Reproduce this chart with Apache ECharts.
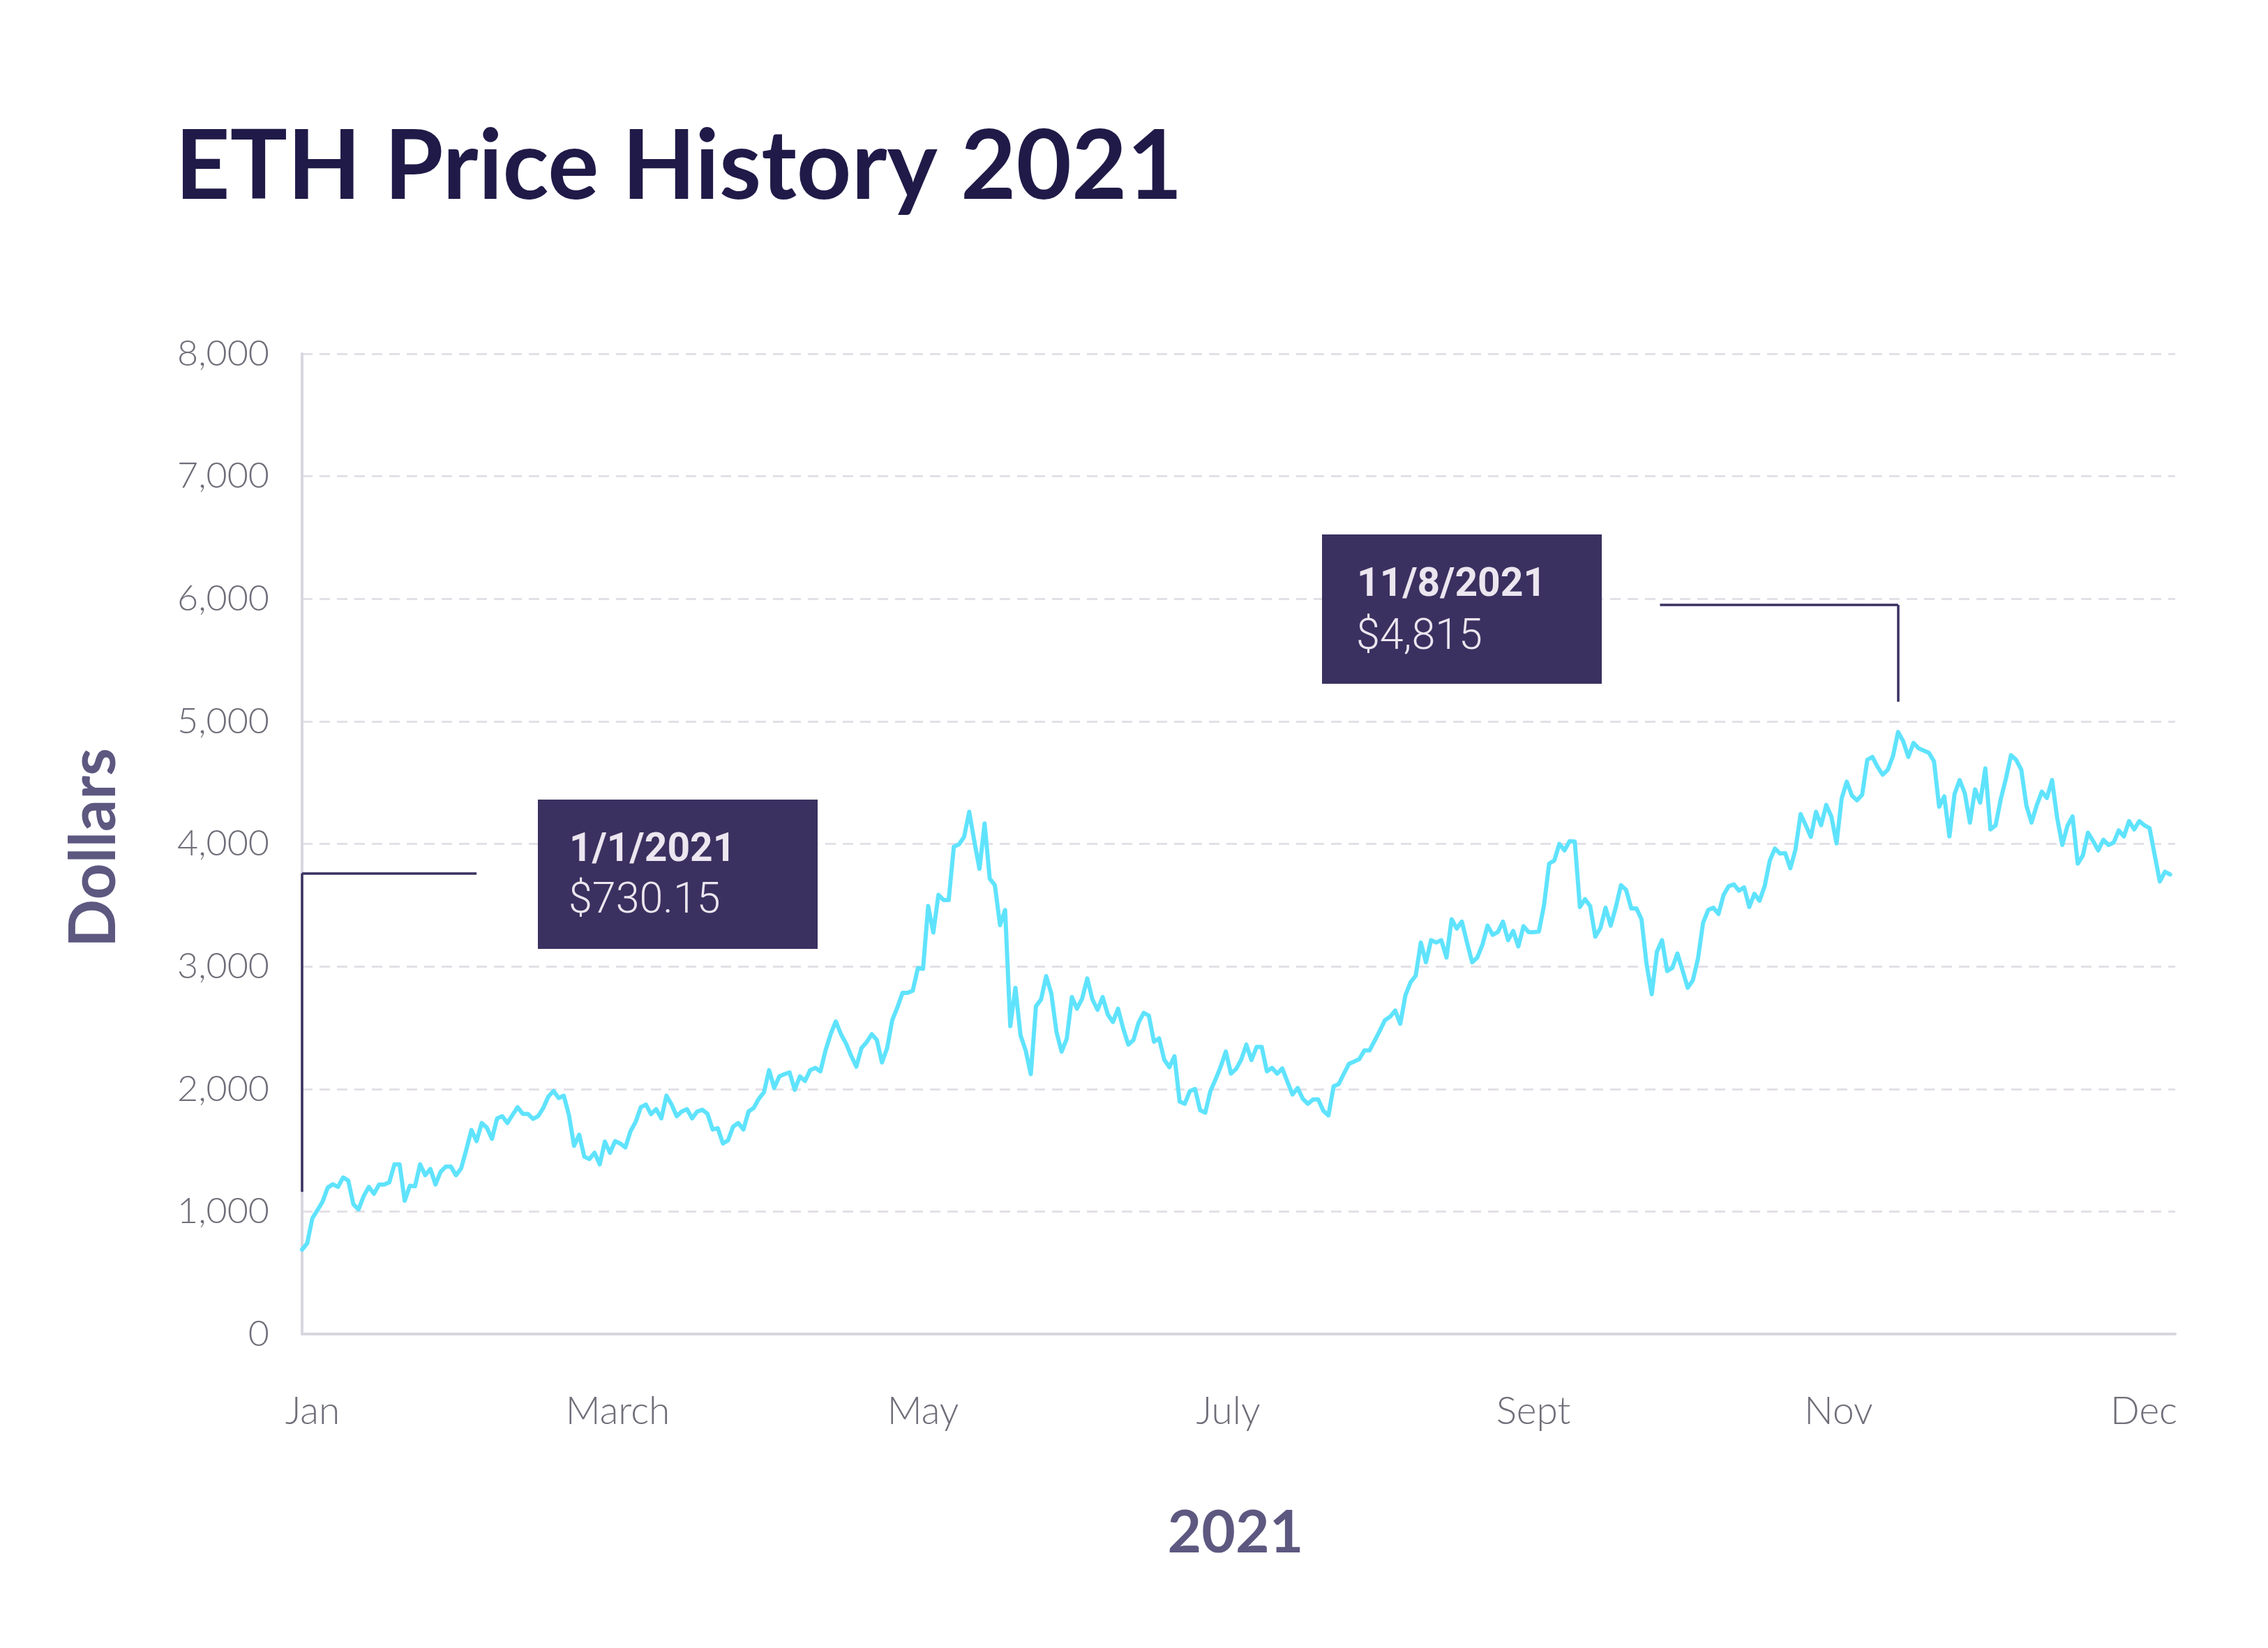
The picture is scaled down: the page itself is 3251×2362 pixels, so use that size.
<!DOCTYPE html>
<html>
<head>
<meta charset="utf-8">
<script src="https://cdn.jsdelivr.net/npm/echarts@6/dist/echarts.min.js"></script>
<style>
html,body{margin:0;padding:0;background:#ffffff;}
#chart{width:3251px;height:2362px;}
</style>
</head>
<body>
<div id="chart"></div>
<script>
// ---- Daily ETH price values (USD), one array per month ----
const jan = [689,741,945,1011,1081,1195,1222,1201,1278,1252,1059,1017,1125,1201,1144,1220,1220,1239,1385,1385,1087,1210,1206,1385,1296,1347,1220,1324,1366,1366,1296];
const feb = [1352,1504,1665,1574,1722,1684,1593,1760,1778,1722,1788,1851,1797,1797,1756,1778,1845,1939,1983,1926,1945,1788,1536,1627,1447,1428,1479,1385];
const mar = [1570,1479,1574,1555,1523,1655,1731,1851,1873,1794,1835,1760,1945,1873,1778,1816,1835,1760,1816,1830,1797,1669,1680,1555,1580,1693,1722,1669,1816,1845,1920];
const apr = [1973,2153,2008,2102,2121,2135,1993,2102,2065,2153,2172,2144,2315,2447,2551,2447,2371,2270,2182,2333,2381,2447,2400,2216,2333,2561,2665,2784,2784,2803];
const may = [2987,2981,3493,3277,3584,3542,3542,3977,3996,4057,4262,4020,3796,4167,3716,3663,3337,3460,2513,2826,2438,2314,2121,2674,2731,2921,2778,2466,2305,2409,2750];
const jun = [2655,2736,2902,2731,2646,2750,2608,2546,2655,2494,2362,2400,2542,2621,2599,2386,2413,2239,2178,2267,1898,1879,1983,2000,1826,1807,1983,2078,2182,2305];
const jul = [2125,2163,2239,2362,2235,2343,2343,2144,2172,2125,2167,2059,1955,2008,1920,1879,1914,1914,1822,1784,2021,2040,2125,2205,2224,2243,2314,2314,2394,2475,2561];
const aug = [2589,2640,2532,2765,2870,2924,3195,3034,3214,3195,3214,3072,3385,3309,3366,3195,3034,3072,3176,3333,3258,3280,3366,3214,3290,3163,3328,3280,3280,3285,3498];
const sep = [3839,3864,4000,3947,4023,4019,3485,3549,3492,3243,3314,3479,3333,3484,3663,3625,3474,3474,3385,3015,2773,3119,3214,2962,2988,3106,2967,2826,2886,3063];
const oct = [3356,3460,3479,3428,3584,3655,3669,3618,3645,3485,3593,3536,3655,3864,3962,3921,3925,3801,3953,4243,4152,4057,4262,4152,4318,4224,4004,4370,4508,4394,4356];
const nov = [4402,4686,4710,4629,4565,4606,4716,4913,4837,4710,4824,4780,4762,4743,4673,4303,4388,4061,4407,4521,4413,4174,4445,4337,4616,4118,4152,4364,4531,4724];
const dec = [4686,4606,4313,4174,4313,4426,4375,4521,4212,3991,4148,4224,3839,3905,4091,4023,3947,4034,3991,4010,4110,4061,4186,4118,4186,4152,4129,3909,3693,3773,3750];

// ---- Tick / axis labels and texts ----
const monthLabels = ['Jan','March','May','July','Sept','Nov','Dec'];
const yAxisMin = 0, yAxisMax = 8000, yAxisStep = 1000;
const chartTitle = 'ETH Price History 2021';
const xAxisTitle = '2021';
const yAxisTitle = 'Dollars';
const noteDates = ['1/1/2021', '11/8/2021'];
const notePrices = ['$730.15', '$4,815'];
// day index (0 = Jan 1) of the annotated points
const noteDays = [0, 311];

const prices = [].concat(jan, feb, mar, apr, may, jun, jul, aug, sep, oct, nov, dec);
const points = prices.map((v, i) => [i, v]);
const dayCount = prices.length;

const BOX = '#3a3160';
const BOXTEXT = '#ebe6ef';
const AXISNAME = '#5d5880';
const TICK = '#6f6e79';

const chart = echarts.init(document.getElementById('chart'), null, {renderer: 'canvas'});

const option = {
  backgroundColor: '#ffffff',
  animation: false,
  grid: [
    {left: 433, right: 133, top: 507, bottom: 450},
    {left: 448, right: 178, top: 507, bottom: 450}
  ],
  xAxis: [
    {
      type: 'value', gridIndex: 0, min: 0, max: dayCount,
      axisLine: {show: true, onZero: false, lineStyle: {color: '#d8d6de', width: 4}},
      axisTick: {show: false}, axisLabel: {show: false}, splitLine: {show: false}
    },
    {
      type: 'category', gridIndex: 1, data: monthLabels, boundaryGap: false,
      axisLine: {show: false}, axisTick: {show: false}, splitLine: {show: false},
      axisLabel: {
        show: true, interval: 0, margin: 84,
        fontFamily: 'Lato', fontWeight: 300, fontSize: 55, color: TICK
      }
    }
  ],
  yAxis: [
    {
      type: 'value', gridIndex: 0, min: yAxisMin, max: yAxisMax, interval: yAxisStep,
      axisLine: {show: true, lineStyle: {color: '#d8d6de', width: 4}},
      axisTick: {show: false},
      axisLabel: {
        margin: 47, fontFamily: 'Lato', fontWeight: 300, fontSize: 52, color: TICK,
        formatter: v => v.toLocaleString('en-US')
      },
      splitLine: {show: true, lineStyle: {color: '#e3e0e7', width: 3, type: [15, 10]}}
    },
    {type: 'value', gridIndex: 1, show: false, min: 0, max: 1}
  ],
  series: [
    {
      type: 'line', xAxisIndex: 0, yAxisIndex: 0, data: points,
      showSymbol: false, symbol: 'none', smooth: false,
      lineStyle: {color: '#5fe3fd', width: 6, join: 'round', cap: 'round'},
      emphasis: {disabled: true}, silent: true,
      markLine: {
        silent: true, symbol: 'none', animation: false,
        label: {show: false},
        lineStyle: {color: BOX, width: 3.5, type: 'solid'},
        data: [
          [{coord: [noteDays[0], 1160]}, {coord: [noteDays[0], 3760]}],
          [{coord: [noteDays[0], 3760]}, {coord: [34, 3760]}],
          [{coord: [noteDays[1], 5160]}, {coord: [noteDays[1], 5950]}],
          [{coord: [noteDays[1], 5950]}, {coord: [264.6, 5950]}]
        ]
      }
    }
  ],
  graphic: [
    {type: 'text', x: 251, y: 241, z: 50,
     style: {text: chartTitle, fontFamily: 'Lato', fontWeight: 700, fontSize: 137, fill: '#201a48',
             textAlign: 'left', textVerticalAlign: 'middle'}},
    {type: 'text', x: 1771, y: 2198, z: 50,
     style: {text: xAxisTitle, fontFamily: 'Lato', fontWeight: 700, fontSize: 84, fill: AXISNAME,
             textAlign: 'center', textVerticalAlign: 'middle'}},
    {type: 'text', x: 136, y: 1215, rotation: Math.PI / 2, z: 50,
     style: {text: yAxisTitle, fontFamily: 'Lato', fontWeight: 700, fontSize: 91, fill: AXISNAME,
             textAlign: 'center', textVerticalAlign: 'middle'}},
    {type: 'rect', z: 50, shape: {x: 771, y: 1146, width: 401, height: 214}, style: {fill: BOX}},
    {type: 'text', x: 816, y: 1220, z: 51,
     style: {text: noteDates[0], fontFamily: 'Roboto', fontWeight: 700, fontSize: 57, fill: BOXTEXT,
             textAlign: 'left', textVerticalAlign: 'middle'}},
    {type: 'text', x: 815, y: 1293, z: 51,
     style: {text: notePrices[0], fontFamily: 'Roboto', fontWeight: 300, fontSize: 61, fill: BOXTEXT,
             textAlign: 'left', textVerticalAlign: 'middle'}},
    {type: 'rect', z: 50, shape: {x: 1895, y: 766, width: 401, height: 214}, style: {fill: BOX}},
    {type: 'text', x: 1945, y: 840, z: 51,
     style: {text: noteDates[1], fontFamily: 'Roboto', fontWeight: 700, fontSize: 57, fill: BOXTEXT,
             textAlign: 'left', textVerticalAlign: 'middle'}},
    {type: 'text', x: 1944, y: 915, z: 51,
     style: {text: notePrices[1], fontFamily: 'Roboto', fontWeight: 300, fontSize: 61, fill: BOXTEXT,
             textAlign: 'left', textVerticalAlign: 'middle'}}
  ]
};
chart.setOption(option);
</script>
</body>
</html>
